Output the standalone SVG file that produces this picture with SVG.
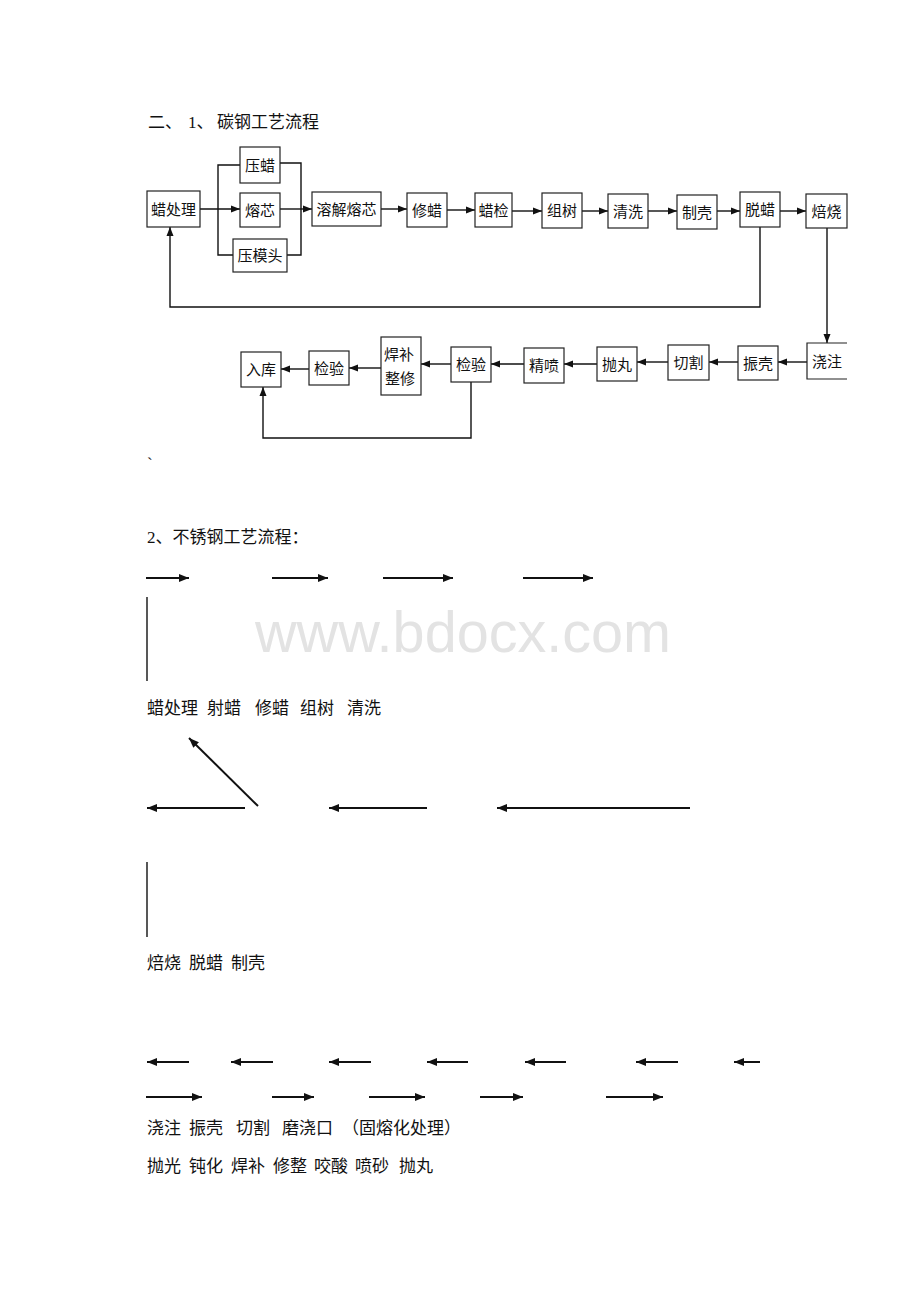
<svg xmlns="http://www.w3.org/2000/svg" width="920" height="1302" viewBox="0 0 920 1302">
<style>
.bx{fill:#fff;stroke:#222;stroke-width:1.2}
.bt{font-family:"Noto Sans CJK SC",sans-serif;font-size:15px;fill:#111;text-anchor:middle}
.ln{fill:none;stroke:#111;stroke-width:1.4}
.ar{fill:none;stroke:#111;stroke-width:1.4;marker-end:url(#a)}
.ar2{fill:none;stroke:#111;stroke-width:2;marker-end:url(#b)}
.tx{font-family:"Liberation Serif","Noto Sans CJK SC",serif;font-size:17px;fill:#111}
.wm{font-family:"Liberation Sans",Arial,sans-serif;font-size:57.6px;fill:#e3e3e3}
</style>
<defs>
<marker id="a" markerUnits="userSpaceOnUse" markerWidth="10" markerHeight="8" refX="9" refY="4" orient="auto"><path d="M0,0.5 L9,4 L0,7.5 z" fill="#111"/></marker>
<marker id="b" markerUnits="userSpaceOnUse" markerWidth="10" markerHeight="9" refX="10" refY="4.5" orient="auto"><path d="M0,0.5 L10,4.5 L0,8.5 z" fill="#111"/></marker>
</defs>
<rect width="920" height="1302" fill="#fff"/>
<text class="wm" x="255" y="652">www.bdocx.com</text>
<text class="tx" font-size="18" y="128"><tspan x="148">二、</tspan><tspan x="188">1、</tspan><tspan x="217">碳钢工艺流程</tspan></text>
<g id="connectors">
<path class="ar" d="M200,209 H240"/>
<path class="ln" d="M240,165 H218 V255 H233"/>
<path class="ln" d="M280,163 H301 V255 H287"/>
<path class="ar" d="M280,209 H312"/>
<path class="ar" d="M381,209 H407"/>
<path class="ar" d="M447,210 H475"/>
<path class="ar" d="M512,211 H542"/>
<path class="ar" d="M582,211 H608"/>
<path class="ar" d="M648,211 H677"/>
<path class="ar" d="M717,211 H740"/>
<path class="ar" d="M780,211 H806"/>
<path class="ar" d="M827,228 V343"/>
<path class="ar" d="M760,227 V307 H170 V227"/>
<path class="ar" d="M807,362 H778"/>
<path class="ar" d="M738,362 H709"/>
<path class="ar" d="M668,362 H637"/>
<path class="ar" d="M597,364 H564"/>
<path class="ar" d="M524,364 H491"/>
<path class="ar" d="M451,364 H421"/>
<path class="ar" d="M381,368 H349"/>
<path class="ar" d="M309,369 H281"/>
<path class="ar" d="M471,382 V438 H263 V387"/>
</g>
<g id="n-lachuli"><rect class="bx" x="147" y="191" width="53" height="36"/><text class="bt" x="173.5" y="214.5">蜡处理</text></g>
<g id="n-yala"><rect class="bx" x="240" y="147" width="40" height="36"/><text class="bt" x="260" y="170.5">压蜡</text></g>
<g id="n-rongxin"><rect class="bx" x="240" y="193" width="40" height="34"/><text class="bt" x="260" y="215.5">熔芯</text></g>
<g id="n-yamotou"><rect class="bx" x="233" y="239" width="54" height="33"/><text class="bt" x="260" y="261">压模头</text></g>
<g id="n-rongjie"><rect class="bx" x="312" y="192" width="69" height="34"/><text class="bt" x="346.5" y="214.5">溶解熔芯</text></g>
<g id="n-xiula"><rect class="bx" x="407" y="193" width="40" height="34"/><text class="bt" x="427" y="215.5">修蜡</text></g>
<g id="n-lajian"><rect class="bx" x="475" y="193" width="37" height="34"/><text class="bt" x="493.5" y="215.5">蜡检</text></g>
<g id="n-zushu"><rect class="bx" x="542" y="193" width="40" height="35"/><text class="bt" x="562" y="216">组树</text></g>
<g id="n-qingxi"><rect class="bx" x="608" y="194" width="40" height="34"/><text class="bt" x="628" y="216.5">清洗</text></g>
<g id="n-zhike"><rect class="bx" x="677" y="195" width="40" height="34"/><text class="bt" x="697" y="217.5">制壳</text></g>
<g id="n-tuola"><rect class="bx" x="740" y="192" width="40" height="35"/><text class="bt" x="760" y="215">脱蜡</text></g>
<g id="n-beishao"><rect class="bx" x="806" y="194" width="41" height="34"/><text class="bt" x="826.5" y="216.5">焙烧</text></g>
<g id="n-jiaozhu"><path class="bx" d="M847,343 H807 V379 H847" fill="#fff"/><text class="bt" x="827" y="366.5">浇注</text></g>
<g id="n-zhenke"><rect class="bx" x="738" y="346" width="40" height="34"/><text class="bt" x="758" y="368.5">振壳</text></g>
<g id="n-qiege"><rect class="bx" x="668" y="345" width="41" height="35"/><text class="bt" x="688.5" y="368">切割</text></g>
<g id="n-paowan"><rect class="bx" x="597" y="347" width="40" height="34"/><text class="bt" x="617" y="369.5">抛丸</text></g>
<g id="n-jingpen"><rect class="bx" x="524" y="348" width="40" height="35"/><text class="bt" x="544" y="371">精喷</text></g>
<g id="n-jianyan2"><rect class="bx" x="451" y="347" width="40" height="35"/><text class="bt" x="471" y="370">检验</text></g>
<g id="n-hanbu"><rect class="bx" x="381" y="337" width="40" height="58"/><text class="bt" x="399" y="359.5">焊补</text><text class="bt" x="400" y="384">整修</text></g>
<g id="n-jianyan1"><rect class="bx" x="309" y="351" width="40" height="34"/><text class="bt" x="329" y="373.5">检验</text></g>
<g id="n-ruku"><rect class="bx" x="241" y="352" width="40" height="35"/><text class="bt" x="261" y="375">入库</text></g>
<text class="tx" font-size="14" x="147" y="469">`</text>
<text class="tx" x="147" y="543">2、不锈钢工艺流程：</text>
<g id="s2-connectors">
<path class="ar2" d="M146,578 H189"/>
<path class="ar2" d="M272,578 H328"/>
<path class="ar2" d="M383,578 H453"/>
<path class="ar2" d="M523,578 H593"/>
<path class="ln" stroke-width="2" d="M147,597 V681"/>
<path class="ar2" stroke-width="1.6" d="M258,806 L189,738"/>
<path class="ar2" d="M245,808 H147"/>
<path class="ar2" d="M427,808 H329"/>
<path class="ar2" d="M690,808 H497"/>
<path class="ln" stroke-width="2" d="M147,862 V937"/>
<path class="ar2" d="M189,1062 H147"/>
<path class="ar2" d="M273,1062 H231"/>
<path class="ar2" d="M371,1062 H329"/>
<path class="ar2" d="M468,1062 H427"/>
<path class="ar2" d="M566,1062 H525"/>
<path class="ar2" d="M678,1062 H636"/>
<path class="ar2" d="M760,1062 H734"/>
<path class="ar2" d="M146,1097 H202"/>
<path class="ar2" d="M272,1097 H314"/>
<path class="ar2" d="M369,1097 H425"/>
<path class="ar2" d="M480,1097 H523"/>
<path class="ar2" d="M606,1097 H663"/>
</g>
<text class="tx" y="714"><tspan x="147">蜡处理</tspan><tspan x="207">射蜡</tspan><tspan x="255">修蜡</tspan><tspan x="300">组树</tspan><tspan x="347">清洗</tspan></text>
<text class="tx" y="969"><tspan x="147">焙烧</tspan><tspan x="189">脱蜡</tspan><tspan x="231">制壳</tspan></text>
<text class="tx" y="1134"><tspan x="147">浇注</tspan><tspan x="189">振壳</tspan><tspan x="236">切割</tspan><tspan x="282">磨浇口</tspan><tspan x="342">（固熔化处理）</tspan></text>
<text class="tx" y="1172"><tspan x="147">抛光</tspan><tspan x="189">钝化</tspan><tspan x="231">焊补</tspan><tspan x="273">修整</tspan><tspan x="314">咬酸</tspan><tspan x="355">喷砂</tspan><tspan x="399">抛丸</tspan></text>
</svg>
